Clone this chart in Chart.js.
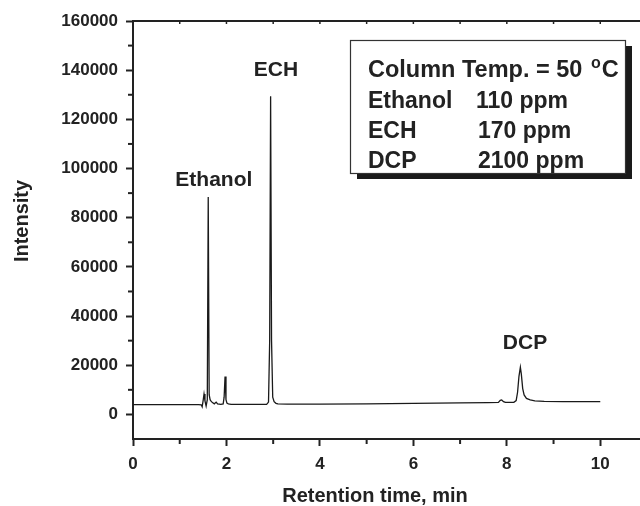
<!DOCTYPE html>
<html>
<head>
<meta charset="utf-8">
<script src="https://cdn.jsdelivr.net/npm/chart.js@4/dist/chart.umd.min.js"></script>
<style>
html, body { margin: 0; padding: 0; background: #fff; overflow: hidden; }
#wrap { width: 648px; height: 506px; }
</style>
</head>
<body>
<div id="wrap"><canvas id="grafico" width="648" height="506"></canvas></div>
<script>
// chromatogram (min, intensity)
var tempoRetencao = [0, 0.5, 1.0, 1.40, 1.46, 1.48, 1.50, 1.52, 1.54, 1.565, 1.59, 1.61, 1.63, 1.65, 1.67, 1.70, 1.74, 1.78, 1.81, 1.88, 1.93, 1.95, 1.97, 1.99, 2.01, 2.04, 2.10, 2.5,
	2.86, 2.90, 2.925, 2.945, 2.965, 2.99, 3.02, 3.06, 3.10, 3.3,
	4.0, 5.0, 6.0, 7.0, 7.6, 7.82, 7.86, 7.89, 7.93, 7.97, 8.10, 8.15, 8.20, 8.23, 8.26, 8.29, 8.31, 8.34, 8.37, 8.42, 8.50, 8.60, 8.80, 9.2, 10.0];
var intensidade = [4000, 4000, 3950, 4000, 3900, 3100, 5500, 8300, 5500, 3400, 6000, 88400, 8000, 6000, 5400, 4800, 4300, 5000, 4300, 4100, 4300, 7000, 15400, 6000, 4600, 4300, 4100, 4100,
	4100, 5000, 30000, 129400, 30000, 7000, 5200, 4500, 4300, 4200,
	4200, 4300, 4500, 4700, 4800, 4900, 5700, 5900, 5200, 4900, 4900, 4900, 5600, 9000, 15500, 19200, 16500, 10500, 7900, 6500, 5900, 5500, 5300, 5200, 5200];

var ticksX = [0, 2, 4, 6, 8, 10];
var ticksXmenor = [1, 3, 5, 7, 9];
var ticksXtopo = [1, 2, 3, 4, 5, 6, 7, 8, 9, 10];
var ticksY = [0, 20000, 40000, 60000, 80000, 100000, 120000, 140000, 160000];
var ticksYmenor = [10000, 30000, 50000, 70000, 90000, 110000, 130000, 150000];

var picosNome = ["Ethanol", "ECH", "DCP"];
var picosX = [1.73, 3.06, 8.39];
var picosY = [95300, 140000, 28900];

var legendaNome = ["Ethanol", "ECH", "DCP"];
var legendaConc = ["110 ppm", "170 ppm", "2100 ppm"];

var corEixo = "#222";
var fonte = "'Liberation Sans', Arial, Helvetica, sans-serif";

var extras = {
	id: "extras",
	afterDraw: function (chart) {
		var ctx = chart.ctx;
		var area = chart.chartArea;
		var sx = chart.scales.x;
		var sy = chart.scales.y;
		ctx.save();
		ctx.strokeStyle = corEixo;
		ctx.lineWidth = 2;

		// top border + small ticks
		ctx.beginPath();
		ctx.moveTo(area.left - 1, area.top);
		ctx.lineTo(area.right, area.top);
		ctx.stroke();
		ctx.lineWidth = 1.5;
		ticksXtopo.forEach(function (v) {
			var px = sx.getPixelForValue(v);
			ctx.beginPath();
			ctx.moveTo(px, area.top);
			ctx.lineTo(px, area.top + 3);
			ctx.stroke();
		});

		// minor ticks
		ctx.lineWidth = 2;
		ticksXmenor.forEach(function (v) {
			var px = sx.getPixelForValue(v);
			ctx.beginPath();
			ctx.moveTo(px, area.bottom);
			ctx.lineTo(px, area.bottom + 5);
			ctx.stroke();
		});
		ticksYmenor.forEach(function (v) {
			var py = sy.getPixelForValue(v);
			ctx.beginPath();
			ctx.moveTo(area.left, py);
			ctx.lineTo(area.left - 5, py);
			ctx.stroke();
		});

		// peak labels
		ctx.fillStyle = corEixo;
		ctx.font = "bold 21px " + fonte;
		ctx.textAlign = "center";
		ctx.textBaseline = "middle";
		for (var i = 0; i < picosNome.length; i++) {
			ctx.fillText(picosNome[i], sx.getPixelForValue(picosX[i]), sy.getPixelForValue(picosY[i]));
		}

		// axis titles
		ctx.font = "bold 20px " + fonte;
		ctx.textBaseline = "alphabetic";
		ctx.fillText("Retention time, min", 375, 502);
		ctx.save();
		ctx.translate(28, 221);
		ctx.rotate(-Math.PI / 2);
		ctx.fillText("Intensity", 0, 0);
		ctx.restore();

		// info box
		ctx.fillStyle = "#1a1a1a";
		ctx.fillRect(357, 46, 275, 133);
		ctx.fillStyle = "#fff";
		ctx.fillRect(350, 40, 275, 133);
		ctx.lineWidth = 1.2;
		ctx.strokeStyle = "#333";
		ctx.strokeRect(350.5, 40.5, 275, 133);

		ctx.fillStyle = corEixo;
		ctx.textAlign = "left";
		ctx.font = "bold 23.5px " + fonte;
		var txt = "Column Temp. = 50 ";
		ctx.fillText(txt, 368, 77);
		var w = ctx.measureText(txt).width;
		ctx.font = "bold 16px " + fonte;
		ctx.fillText("o", 368 + w + 2, 68);
		var wo = ctx.measureText("o").width;
		ctx.font = "bold 23.5px " + fonte;
		ctx.fillText("C", 368 + w + wo + 3, 77);
		ctx.font = "bold 23px " + fonte;
		var linhas = [108, 138, 168];
		var colX = [476, 478, 478];
		for (var j = 0; j < legendaNome.length; j++) {
			ctx.fillText(legendaNome[j], 368, linhas[j]);
			ctx.fillText(legendaConc[j], colX[j], linhas[j]);
		}
		ctx.restore();
	}
};

var pontos = tempoRetencao.map(function (t, i) {
	return { x: t, y: intensidade[i] };
});

var config = {
	type: "line",
	data: {
		datasets: [
			{
				data: pontos,
				borderColor: "#1a1a1a",
				borderWidth: 1.3,
				pointRadius: 0,
				tension: 0,
				fill: false,
			},
		],
	},
	options: {
		responsive: false,
		animation: false,
		devicePixelRatio: 1,
		layout: { padding: { top: 21, right: 1, left: 0, bottom: 0 } },
		scales: {
			x: {
				type: "linear",
				min: 0,
				max: 11,
				afterBuildTicks: function (scale) {
					scale.ticks = ticksX.map(function (v) { return { value: v }; });
				},
				afterFit: function (scale) {
					scale.height = 67;
				},
				ticks: {
					color: corEixo,
					padding: 8,
					maxRotation: 0,
					font: { family: fonte, size: 17, weight: "bold" },
				},
				grid: {
					drawOnChartArea: false,
					tickLength: 7,
					tickWidth: 2,
					tickColor: corEixo,
				},
				border: { color: corEixo, width: 2 },
			},
			y: {
				min: -10000,
				max: 160000,
				afterBuildTicks: function (scale) {
					scale.ticks = ticksY.map(function (v) { return { value: v }; });
				},
				afterFit: function (scale) {
					scale.width = 133;
				},
				ticks: {
					color: corEixo,
					padding: 8,
					font: { family: fonte, size: 17, weight: "bold" },
					callback: function (v) { return String(v); },
				},
				grid: {
					drawOnChartArea: false,
					tickLength: 7,
					tickWidth: 2,
					tickColor: corEixo,
				},
				border: { color: corEixo, width: 2 },
			},
		},
		plugins: {
			legend: { display: false },
			tooltip: { enabled: false },
		},
	},
	plugins: [extras],
};

var grafico = new Chart(document.getElementById("grafico"), config);
</script>
</body>
</html>
